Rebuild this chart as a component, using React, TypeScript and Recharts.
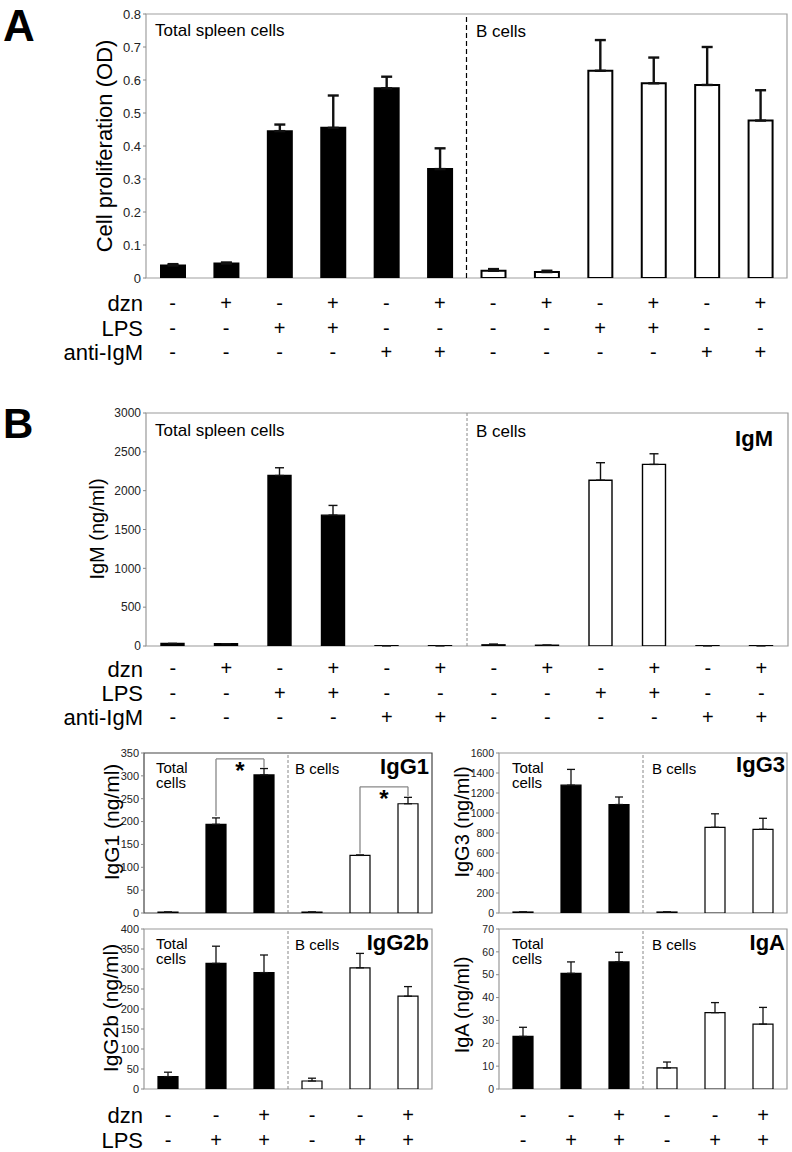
import React from "react";
import {
  BarChart,
  Bar,
  XAxis,
  YAxis,
  Cell,
  ErrorBar,
  ReferenceLine,
  ReferenceArea,
} from "recharts";

const FONT = '"Liberation Sans", Arial, Helvetica, sans-serif';

// 12 culture conditions (panel A and IgM)
const cats12 = ["T1", "T2", "T3", "T4", "T5", "T6", "B1", "B2", "B3", "B4", "B5", "B6"];
const groups12 = ["total", "total", "total", "total", "total", "total", "b", "b", "b", "b", "b", "b"];
const dzn12 = ["-", "+", "-", "+", "-", "+", "-", "+", "-", "+", "-", "+"];
const lps12 = ["-", "-", "+", "+", "-", "-", "-", "-", "+", "+", "-", "-"];
const antiIgM12 = ["-", "-", "-", "-", "+", "+", "-", "-", "-", "-", "+", "+"];

// 6 conditions (IgG1 / IgG3 / IgG2b / IgA)
const cats6 = ["T1", "T2", "T3", "B1", "B2", "B3"];
const groups6 = ["total", "total", "total", "b", "b", "b"];
const dzn6 = ["-", "-", "+", "-", "-", "+"];
const lps6 = ["-", "+", "+", "-", "+", "+"];

// panel A: cell proliferation (OD)
const prolifMean = [0.038, 0.044, 0.445, 0.455, 0.575, 0.33, 0.022, 0.018, 0.628, 0.59, 0.585, 0.477];
const prolifErr = [0.004, 0.003, 0.02, 0.098, 0.035, 0.063, 0.005, 0.004, 0.093, 0.078, 0.115, 0.092];
const prolifTicks = [0, 0.1, 0.2, 0.3, 0.4, 0.5, 0.6, 0.7, 0.8];

// panel B
const igmMean = [32, 30, 2195, 1685, 4, 4, 15, 10, 2135, 2338, 4, 4];
const igmErr = [0, 0, 100, 125, 0, 0, 10, 0, 225, 137, 0, 0];
const igmTicks = [0, 500, 1000, 1500, 2000, 2500, 3000];

const igg1Mean = [2, 194, 302, 2, 126, 239];
const igg1Err = [0, 14, 14, 0, 1, 14];
const igg1Ticks = [0, 50, 100, 150, 200, 250, 300, 350];

const igg3Mean = [10, 1278, 1085, 10, 857, 837];
const igg3Err = [0, 158, 75, 0, 135, 110];
const igg3Ticks = [0, 200, 400, 600, 800, 1000, 1200, 1400, 1600];

const igg2bMean = [31, 314, 291, 20, 303, 232];
const igg2bErr = [11, 43, 44, 7, 36, 24];
const igg2bTicks = [0, 50, 100, 150, 200, 250, 300, 350, 400];

const igaMean = [23, 50.6, 55.6, 9.2, 33.4, 28.4];
const igaErr = [4, 5, 4.2, 2.6, 4.4, 7.3];
const igaTicks = [0, 10, 20, 30, 40, 50, 60, 70];

// significance brackets on IgG1 (ng/ml)
const igg1Brackets = [
  { from: "T2", to: "T3", top: 337, fromY: 212, toY: 318 },
  { from: "B2", to: "B3", top: 276, fromY: 130, toY: 256 },
];

function rows(cats: string[], groups: string[], vals: number[], errs: number[]) {
  return cats.map((c, i) => ({ id: c, group: groups[i], v: vals[i], e: [0, errs[i]] }));
}

const SignTick = (props: any) => {
  const { x, y, index, signRows, offsets } = props;
  return (
    <g>
      {signRows.map((r: string[], k: number) => (
        <text
          key={k}
          x={x}
          y={y + offsets[k]}
          textAnchor="middle"
          dominantBaseline="central"
          fontSize={20}
          fontFamily={FONT}
          fill="#000"
        >
          {r[index]}
        </text>
      ))}
    </g>
  );
};

const Txt = ({ x, y, size, bold, anchor = "start", rotate, children }: any) => {
  const tx = anchor === "end" ? "-100%" : anchor === "middle" ? "-50%" : "0";
  return (
    <div
      style={{
        position: "absolute",
        left: x,
        top: y,
        fontSize: size,
        fontWeight: bold ? "bold" : "normal",
        fontFamily: FONT,
        lineHeight: 1,
        whiteSpace: "nowrap",
        color: "#000",
        transform: `translate(${tx}, -50%)${rotate ? " rotate(-90deg)" : ""}`,
        transformOrigin: rotate ? "50% 50%" : undefined,
      }}
    >
      {children}
    </div>
  );
};

const Panel = ({
  box,
  data,
  domain,
  ticks,
  barSize,
  capW,
  errW,
  barStroke,
  border,
  divider,
  tickFont,
  signRows,
  signOffsets,
  extras,
}: any) => (
  <div style={{ position: "absolute", left: box.left, top: box.top }}>
    <BarChart
      width={box.w}
      height={box.h}
      data={data}
      margin={{ top: box.mt, right: box.mr, left: 0, bottom: 0 }}
    >
      <XAxis
        dataKey="id"
        height={box.xh}
        axisLine={false}
        tickLine={false}
        tickSize={0}
        tickMargin={0}
        interval={0}
        tick={signRows ? <SignTick signRows={signRows} offsets={signOffsets} /> : false}
      />
      <YAxis
        width={box.yw}
        type="number"
        domain={domain}
        ticks={ticks}
        interval={0}
        allowDataOverflow
        axisLine={false}
        tickLine={{ stroke: "#888" }}
        tickSize={3}
        tickMargin={2}
        tick={{ fontSize: tickFont, fill: "#222", fontFamily: FONT }}
      />
      <ReferenceArea
        y1={domain[0]}
        y2={domain[1]}
        fill="none"
        stroke={border}
        strokeWidth={1.2}
        ifOverflow="visible"
      />
      <ReferenceLine
        x="B1"
        position="start"
        stroke={divider.color}
        strokeWidth={divider.width}
        strokeDasharray={divider.dash}
      />
      <Bar dataKey="v" barSize={barSize} stroke="#000" strokeWidth={barStroke} isAnimationActive={false}>
        {data.map((d: any, i: number) => (
          <Cell key={i} fill={d.group === "total" ? "#000" : "#fff"} />
        ))}
        <ErrorBar dataKey="e" width={capW} strokeWidth={errW} stroke="#111" direction="y" />
      </Bar>
      {extras}
    </BarChart>
  </div>
);

export default function App() {
  const dataA = rows(cats12, groups12, prolifMean, prolifErr);
  const dataM = rows(cats12, groups12, igmMean, igmErr);
  const dataG1 = rows(cats6, groups6, igg1Mean, igg1Err);
  const dataG3 = rows(cats6, groups6, igg3Mean, igg3Err);
  const dataG2b = rows(cats6, groups6, igg2bMean, igg2bErr);
  const dataA2 = rows(cats6, groups6, igaMean, igaErr);

  const dashedBlack = { color: "#000", width: 1.2, dash: "5 3" };
  const dottedGray = { color: "#888", width: 1, dash: "3 2" };

  const bracketLines = igg1Brackets.flatMap((b, i) => [
    <ReferenceLine
      key={`l${i}`}
      segment={[{ x: b.from, y: b.fromY }, { x: b.from, y: b.top }]}
      stroke="#888"
      strokeWidth={1.3}
      ifOverflow="visible"
    />,
    <ReferenceLine
      key={`t${i}`}
      segment={[{ x: b.from, y: b.top }, { x: b.to, y: b.top }]}
      stroke="#888"
      strokeWidth={1.3}
      ifOverflow="visible"
      label={{ value: "*", position: "bottom", offset: 3, fontSize: 24, fontWeight: "bold", fill: "#000", fontFamily: FONT }}
    />,
    <ReferenceLine
      key={`r${i}`}
      segment={[{ x: b.to, y: b.top }, { x: b.to, y: b.toY }]}
      stroke="#888"
      strokeWidth={1.3}
      ifOverflow="visible"
    />,
  ]);

  return (
    <div
      style={{
        position: "absolute",
        left: 0,
        top: 0,
        width: 792,
        height: 1152,
        background: "#fff",
        fontFamily: FONT,
        overflow: "hidden",
      }}
    >
      {/* Panel A */}
      <Panel
        box={{ left: 0, top: 0, w: 792, h: 370, mt: 14, mr: 5, yw: 146, xh: 92 }}
        data={dataA}
        domain={[0, 0.8]}
        ticks={prolifTicks}
        barSize={24}
        capW={5.5}
        errW={2.4}
        barStroke={2}
        border="#a0a0a0"
        divider={dashedBlack}
        tickFont={13}
        signRows={[dzn12, lps12, antiIgM12]}
        signOffsets={[25, 50, 74]}
      />
      <Txt x={3} y={26} size={44} bold>A</Txt>
      <Txt x={105} y={146} size={22} anchor="middle" rotate>Cell proliferation (OD)</Txt>
      <Txt x={155} y={30} size={17}>Total spleen cells</Txt>
      <Txt x={476} y={31} size={17}>B cells</Txt>
      <Txt x={143} y={304} size={22} anchor="end">dzn</Txt>
      <Txt x={143} y={329} size={22} anchor="end">LPS</Txt>
      <Txt x={143} y={353} size={22} anchor="end">anti-IgM</Txt>

      {/* Panel B: IgM */}
      <Panel
        box={{ left: 0, top: 400, w: 792, h: 340, mt: 13, mr: 4, yw: 146, xh: 94 }}
        data={dataM}
        domain={[0, 3000]}
        ticks={igmTicks}
        barSize={23}
        capW={4.5}
        errW={1.4}
        barStroke={1.4}
        border="#999"
        divider={dottedGray}
        tickFont={12}
        signRows={[dzn12, lps12, antiIgM12]}
        signOffsets={[22, 47, 71]}
      />
      <Txt x={3} y={424} size={42} bold>B</Txt>
      <Txt x={97} y={529} size={20} anchor="middle" rotate>IgM (ng/ml)</Txt>
      <Txt x={155} y={430} size={17}>Total spleen cells</Txt>
      <Txt x={476} y={431} size={17}>B cells</Txt>
      <Txt x={773} y={439} size={22} bold anchor="end">IgM</Txt>
      <Txt x={143} y={670} size={22} anchor="end">dzn</Txt>
      <Txt x={143} y={694} size={22} anchor="end">LPS</Txt>
      <Txt x={143} y={718} size={22} anchor="end">anti-IgM</Txt>

      {/* IgG1 */}
      <Panel
        box={{ left: 0, top: 740, w: 434, h: 181, mt: 13, mr: 2, yw: 144, xh: 8 }}
        data={dataG1}
        domain={[0, 350]}
        ticks={igg1Ticks}
        barSize={20}
        capW={4}
        errW={1.3}
        barStroke={1.2}
        border="#444"
        divider={dottedGray}
        tickFont={11}
        extras={bracketLines}
      />
      <Txt x={111} y={822} size={21} anchor="middle" rotate>IgG1 (ng/ml)</Txt>
      <Txt x={156} y={767} size={15}>Total</Txt>
      <Txt x={156} y={782} size={15}>cells</Txt>
      <Txt x={295} y={768} size={15}>B cells</Txt>
      <Txt x={429} y={767} size={22} bold anchor="end">IgG1</Txt>

      {/* IgG3 */}
      <Panel
        box={{ left: 440, top: 740, w: 349, h: 181, mt: 13, mr: 2, yw: 59, xh: 8 }}
        data={dataG3}
        domain={[0, 1600]}
        ticks={igg3Ticks}
        barSize={20}
        capW={4}
        errW={1.3}
        barStroke={1.2}
        border="#999"
        divider={dottedGray}
        tickFont={10.5}
      />
      <Txt x={462} y={822} size={20} anchor="middle" rotate>IgG3 (ng/ml)</Txt>
      <Txt x={512} y={767} size={15}>Total</Txt>
      <Txt x={512} y={782} size={15}>cells</Txt>
      <Txt x={652} y={768} size={15}>B cells</Txt>
      <Txt x={785} y={765} size={22} bold anchor="end">IgG3</Txt>

      {/* IgG2b */}
      <Panel
        box={{ left: 0, top: 916, w: 434, h: 236, mt: 13, mr: 2, yw: 144, xh: 63 }}
        data={dataG2b}
        domain={[0, 400]}
        ticks={igg2bTicks}
        barSize={20}
        capW={4}
        errW={1.3}
        barStroke={1.2}
        border="#999"
        divider={dottedGray}
        tickFont={11}
        signRows={[dzn6, lps6]}
        signOffsets={[26, 51]}
      />
      <Txt x={110} y={1008} size={21} anchor="middle" rotate>IgG2b (ng/ml)</Txt>
      <Txt x={156} y={943} size={15}>Total</Txt>
      <Txt x={156} y={958} size={15}>cells</Txt>
      <Txt x={295} y={944} size={15}>B cells</Txt>
      <Txt x={429} y={943} size={22} bold anchor="end">IgG2b</Txt>
      <Txt x={143} y={1116} size={22} anchor="end">dzn</Txt>
      <Txt x={143} y={1141} size={22} anchor="end">LPS</Txt>

      {/* IgA */}
      <Panel
        box={{ left: 440, top: 916, w: 349, h: 236, mt: 13, mr: 2, yw: 59, xh: 63 }}
        data={dataA2}
        domain={[0, 70]}
        ticks={igaTicks}
        barSize={20}
        capW={4}
        errW={1.3}
        barStroke={1.2}
        border="#999"
        divider={dottedGray}
        tickFont={10.5}
        signRows={[dzn6, lps6]}
        signOffsets={[26, 51]}
      />
      <Txt x={462} y={1005} size={20} anchor="middle" rotate>IgA (ng/ml)</Txt>
      <Txt x={512} y={943} size={15}>Total</Txt>
      <Txt x={512} y={958} size={15}>cells</Txt>
      <Txt x={652} y={944} size={15}>B cells</Txt>
      <Txt x={785} y={943} size={22} bold anchor="end">IgA</Txt>
    </div>
  );
}
